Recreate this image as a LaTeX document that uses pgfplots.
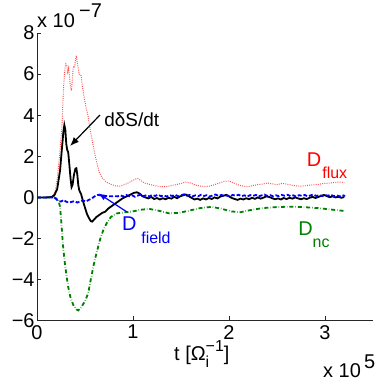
\documentclass[border=0pt]{standalone}
\usepackage{fontspec}
\setmainfont{Liberation Sans}
\usepackage{pgfplots}
\pgfplotsset{compat=1.18}
\usetikzlibrary{arrows.meta}

\definecolor{mgreen}{rgb}{0,0.5,0}
\definecolor{mred}{rgb}{1,0.3,0.3}

\newcommand{\tickfont}{\fontsize{20}{22}\selectfont}
\newcommand{\labfont}{\fontsize{20}{22}\selectfont}
\newcommand{\subfont}{\fontsize{16}{18}\selectfont}

\begin{document}
\begin{tikzpicture}
\useasboundingbox (0,0) rectangle (375bp,383bp);
\begin{axis}[
  at={(37bp,62.3bp)}, anchor=south west,
  scale only axis, width=336bp, height=287.7bp,
  xmin=0, xmax=3.5, ymin=-6, ymax=8,
  axis x line*=bottom, axis y line*=left,
  axis line style={black!85, line width=0.7pt, -},
  tick style={black!85, line width=0.7pt},
  tick align=inside, major tick length=4.5bp,
  xtick={0,1,2,3}, xticklabels={0,1,2,3},
  ytick={-6,-4,-2,0,2,4,6,8},
  yticklabels={−6,−4,−2,0,2,4,6,8},
  ticklabel style={font=\tickfont},
  xticklabel style={yshift=-1bp},
  yticklabel style={xshift=1bp},
  clip=false,
]
% D_flux
\addplot[mred, line width=1pt, dash pattern=on 0.9pt off 1.3pt] coordinates {
(0,0) (0.12,0) (0.16,0.05) (0.19,0.3) (0.21,0.9) (0.23,1.8) (0.245,2.6)
(0.26,3.5) (0.27,4.6) (0.28,5.6) (0.29,6.2) (0.30,6.5) (0.31,6.45) (0.32,6.1)
(0.33,6.3) (0.34,5.8) (0.35,5.3) (0.36,5.2) (0.37,5.9) (0.38,6.4) (0.39,6.3)
(0.40,6.7) (0.41,6.9) (0.42,6.5) (0.43,6.3) (0.44,6.0) (0.45,6.0) (0.46,5.9)
(0.47,5.5) (0.49,4.9) (0.51,4.4) (0.53,4.0) (0.55,3.4) (0.57,2.9) (0.59,2.4)
(0.61,1.95) (0.63,1.55) (0.65,1.2) (0.68,0.95) (0.71,0.8) (0.74,0.7) (0.78,0.62)
(0.82,0.56) (0.86,0.55) (0.90,0.6) (0.94,0.68) (0.98,0.78) (1.02,0.88) (1.05,0.92)
(1.08,0.82) (1.12,0.7) (1.16,0.65) (1.20,0.6) (1.25,0.55) (1.30,0.52) (1.35,0.52)
(1.40,0.58) (1.45,0.62) (1.50,0.68) (1.55,0.75) (1.60,0.7) (1.65,0.6) (1.70,0.55)
(1.75,0.52) (1.80,0.55) (1.85,0.62) (1.90,0.7) (1.95,0.78) (2.00,0.8) (2.05,0.7)
(2.10,0.6) (2.15,0.55) (2.20,0.52) (2.25,0.58) (2.30,0.62) (2.35,0.65) (2.40,0.7)
(2.45,0.66) (2.50,0.62) (2.55,0.68) (2.60,0.65) (2.65,0.6) (2.70,0.56) (2.75,0.55)
(2.80,0.57) (2.85,0.6) (2.90,0.62) (2.95,0.65) (3.00,0.68) (3.05,0.7) (3.10,0.72)
(3.15,0.75) (3.20,0.72)
};
% D_nc
\addplot[mgreen, line width=1.8pt, dash pattern=on 4pt off 2pt on 0.4pt off 2pt] coordinates {
(0,0) (0.18,0) (0.22,-0.1) (0.24,-0.45) (0.255,-1.3) (0.27,-2.3) (0.29,-3.2)
(0.31,-3.9) (0.325,-4.35) (0.35,-4.9) (0.38,-5.25) (0.41,-5.45) (0.43,-5.5)
(0.46,-5.35) (0.50,-5.05) (0.533,-4.67) (0.56,-4.0) (0.59,-3.3) (0.62,-2.7)
(0.66,-2.0) (0.69,-1.6) (0.725,-1.26) (0.77,-0.95) (0.83,-0.78) (0.92,-0.72)
(1.00,-0.68) (1.08,-0.6) (1.17,-0.56) (1.27,-0.65) (1.38,-0.78) (1.48,-0.75)
(1.58,-0.65) (1.70,-0.52) (1.82,-0.46) (1.92,-0.55) (2.02,-0.68) (2.12,-0.72)
(2.22,-0.62) (2.35,-0.52) (2.50,-0.47) (2.65,-0.45) (2.80,-0.48) (2.95,-0.53)
(3.08,-0.6) (3.20,-0.66)
};
% d(delta S)/dt
\addplot[black, line width=1.8pt] coordinates {
(0,0) (0.10,0) (0.15,0.02) (0.18,0.1) (0.21,0.4) (0.24,1.3) (0.26,2.4)
(0.275,3.2) (0.285,3.52) (0.295,3.3) (0.305,2.6) (0.315,2.3) (0.325,2.2)
(0.335,1.7) (0.35,0.9) (0.36,0.5) (0.37,0.6) (0.385,1.1) (0.40,1.4) (0.41,1.42)
(0.42,1.1) (0.43,0.6) (0.44,0.35) (0.45,0.25) (0.46,0.15) (0.48,-0.2) (0.50,-0.5)
(0.52,-0.8) (0.54,-1.0) (0.56,-1.15) (0.575,-1.18) (0.59,-1.1) (0.62,-0.95)
(0.65,-0.85) (0.68,-0.75) (0.71,-0.7) (0.74,-0.55) (0.77,-0.45) (0.80,-0.35)
(0.83,-0.25) (0.86,-0.15) (0.89,-0.05) (0.92,0.02) (0.95,0.08) (0.98,0.15)
(1.01,0.22) (1.04,0.25) (1.07,0.18) (1.10,0.05) (1.13,0.0) (1.16,-0.05)
(1.19,0.02) (1.22,-0.08) (1.25,-0.03) (1.28,-0.1) (1.31,-0.04) (1.34,-0.09)
(1.37,-0.02) (1.40,-0.06) (1.43,0.03) (1.46,-0.04) (1.49,0.05) (1.52,0.1)
(1.55,0.14) (1.58,0.06) (1.61,-0.02) (1.64,-0.1) (1.67,-0.06) (1.70,-0.12)
(1.73,-0.05) (1.76,-0.1) (1.79,-0.03) (1.82,-0.08) (1.85,0.0) (1.88,-0.05)
(1.91,0.04) (1.94,0.08) (1.97,0.12) (2.00,0.05) (2.03,-0.03) (2.06,-0.08)
(2.09,-0.12) (2.12,-0.06) (2.15,-0.1) (2.18,-0.04) (2.21,-0.09) (2.24,-0.02)
(2.27,-0.07) (2.30,0.0) (2.33,-0.06) (2.36,-0.01) (2.39,0.05) (2.42,0.02)
(2.45,-0.04) (2.48,-0.09) (2.51,-0.05) (2.54,-0.1) (2.57,-0.03) (2.60,-0.08)
(2.63,-0.02) (2.66,-0.06) (2.69,0.0) (2.72,-0.05) (2.75,-0.09) (2.78,-0.04)
(2.81,-0.08) (2.84,-0.02) (2.87,0.03) (2.90,-0.03) (2.93,0.02) (2.96,0.08)
(2.99,0.12) (3.02,0.06) (3.05,0.01) (3.08,0.05) (3.11,0.0) (3.14,0.03)
(3.17,-0.02) (3.20,0.02)
};
% D_field
\addplot[blue, line width=1.8pt, dash pattern=on 4pt off 2pt] coordinates {
(0,0) (0.18,0) (0.20,-0.08) (0.22,-0.18) (0.25,-0.2) (0.28,-0.12) (0.30,-0.2)
(0.33,-0.25) (0.36,-0.22) (0.39,-0.18) (0.42,-0.25) (0.45,-0.2) (0.48,-0.15)
(0.51,-0.2) (0.54,-0.12) (0.57,-0.05) (0.60,0.05) (0.63,0.12) (0.66,0.1)
(0.70,0.08) (0.75,0.05) (0.80,0.06) (0.84,0.05) (0.87,0.1) (0.90,0.04)
(0.93,0.12) (0.96,0.06) (0.99,0.1) (1.02,0.03) (1.05,0.09) (1.08,0.14)
(1.11,0.06) (1.14,0.11) (1.17,0.05) (1.20,0.12) (1.23,0.07) (1.26,0.13)
(1.29,0.06) (1.32,0.1) (1.35,0.04) (1.38,0.11) (1.41,0.07) (1.44,0.13)
(1.47,0.05) (1.50,0.1) (1.53,0.15) (1.56,0.08) (1.59,0.12) (1.62,0.05)
(1.65,0.1) (1.68,0.06) (1.71,0.13) (1.74,0.07) (1.77,0.11) (1.80,0.04)
(1.83,0.1) (1.86,0.14) (1.89,0.07) (1.92,0.12) (1.95,0.06) (1.98,0.1)
(2.01,0.05) (2.04,0.12) (2.07,0.08) (2.10,0.13) (2.13,0.06) (2.16,0.1)
(2.19,0.04) (2.22,0.11) (2.25,0.07) (2.28,0.12) (2.31,0.05) (2.34,0.1)
(2.37,0.14) (2.40,0.07) (2.43,0.11) (2.46,0.05) (2.49,0.1) (2.52,0.06)
(2.55,0.12) (2.58,0.08) (2.61,0.13) (2.64,0.06) (2.67,0.1) (2.70,0.04)
(2.73,0.11) (2.76,0.07) (2.79,0.12) (2.82,0.05) (2.85,0.1) (2.88,0.14)
(2.91,0.07) (2.94,0.11) (2.97,0.06) (3.00,0.12) (3.03,0.08) (3.06,0.13)
(3.09,0.06) (3.12,0.1) (3.15,0.05) (3.18,0.11) (3.21,0.07)
};

% annotations
\draw[black, line width=1.2pt, -{Latex[length=9bp,width=7bp]}]
  (axis cs:0.656,4.01) -- (axis cs:0.344,2.50);
\node[anchor=base west, inner sep=0pt, font=\fontsize{19}{21}\selectfont]
  at (axis cs:0.70,3.47) {dδS/dt};
\draw[blue, line width=1.2pt, -{Latex[length=8bp,width=6bp]}]
  (axis cs:0.934,-0.70) -- (axis cs:0.639,0.20);
\node[anchor=base west, inner sep=0pt, text=blue, font=\labfont] at (axis cs:0.885,-1.62) {D};
\node[anchor=base west, inner sep=0pt, text=blue, font=\subfont] at (axis cs:1.085,-2.23) {field};
\node[anchor=base west, inner sep=0pt, text=red, font=\labfont] at (axis cs:2.81,1.494) {D};
\node[anchor=base west, inner sep=0pt, text=red, font=\subfont] at (axis cs:2.97,0.93) {flux};
\node[anchor=base west, inner sep=0pt, text=mgreen, font=\labfont] at (axis cs:2.72,-1.864) {D};
\node[anchor=base west, inner sep=0pt, text=mgreen, font=\subfont] at (axis cs:2.87,-2.46) {nc};
\end{axis}

% axis multipliers and x label
\node[anchor=base west, inner sep=0pt, font=\labfont] at (37bp,355bp) {x 10};
\node[anchor=base west, inner sep=0pt, font=\labfont] at (79bp,365bp) {−7};
\node[anchor=base west, inner sep=0pt, font=\labfont] at (323bp,6bp) {x 10};
\node[anchor=base west, inner sep=0pt, font=\labfont] at (364bp,15bp) {5};
\node[anchor=base west, inner sep=0pt, font=\labfont] at (174bp,23bp)
  {t [Ω\rlap{\raisebox{-7bp}{\subfont i}}\raisebox{9bp}{\subfont −1}]};
\end{tikzpicture}
\end{document}
